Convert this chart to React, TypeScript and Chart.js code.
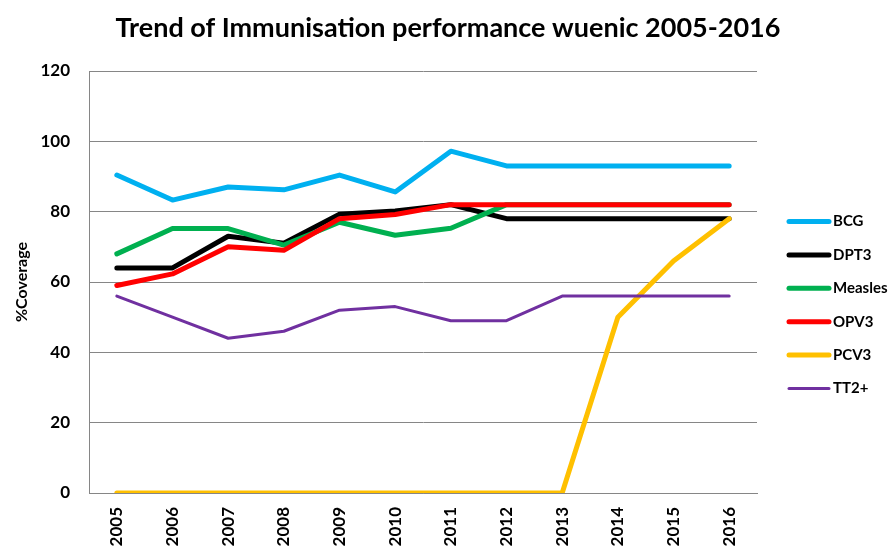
import React, { useEffect, useRef } from "react";
import { Chart, registerables } from "chart.js";

Chart.register(...registerables);

const years = ["2005", "2006", "2007", "2008", "2009", "2010", "2011", "2012", "2013", "2014", "2015", "2016"];
const bcg = [90.4, 83.3, 87, 86.2, 90.4, 85.6, 97.2, 93, 93, 93, 93, 93];
const dpt3 = [64, 64, 73, 71, 79.3, 80.2, 82, 78, 78, 78, 78, 78];
const measles = [68, 75.2, 75.2, 70.5, 77, 73.3, 75.3, 82, 82, 82, 82, 82];
const opv3 = [59, 62.3, 70, 69, 78, 79.2, 82, 82, 82, 82, 82, 82];
const pcv3 = [0, 0, 0, 0, 0, 0, 0, 0, 0, 50, 66, 78];
const tt2 = [56, 50, 44, 46, 52, 53, 49, 49, 56, 56, 56, 56];
const yTicks = [0, 20, 40, 60, 80, 100, 120];

const seriesNames = ["BCG", "DPT3", "Measles", "OPV3", "PCV3", "TT2+"];
const seriesData = [bcg, dpt3, measles, opv3, pcv3, tt2];
const seriesColors = ["#00B0F0", "#000000", "#00B050", "#FF0000", "#FFC000", "#7030A0"];
const seriesWidths = [5, 5, 5, 5, 5, 3];

const FONT = "Lato, 'Open Sans', sans-serif";

const titlePlugin = {
  id: "customTitle",
  afterDraw(chart: any) {
    const ctx = chart.ctx;
    ctx.save();
    ctx.fillStyle = "#000";
    ctx.font = `bold 27px ${FONT}`;
    ctx.textAlign = "center";
    ctx.textBaseline = "middle";
    ctx.fillText("Trend of Immunisation performance wuenic 2005-2016", 448, 28);
    ctx.restore();
  },
};

const legendPlugin = {
  id: "customLegend",
  afterDraw(chart: any) {
    const ctx = chart.ctx;
    ctx.save();
    const ds = chart.data.datasets;
    ds.forEach((d: any, i: number) => {
      const y = 221.5 + i * 33.4;
      ctx.strokeStyle = d.borderColor;
      ctx.lineWidth = d.borderWidth;
      ctx.lineCap = "round";
      ctx.beginPath();
      ctx.moveTo(789, y);
      ctx.lineTo(829, y);
      ctx.stroke();
      ctx.fillStyle = "#000";
      ctx.font = `bold 15px ${FONT}`;
      ctx.textAlign = "left";
      ctx.textBaseline = "middle";
      ctx.fillText(d.label, 833, y);
    });
    ctx.restore();
  },
};

export default function App() {
  const ref = useRef<HTMLCanvasElement | null>(null);
  useEffect(() => {
    document.body.style.margin = "0";
    if (!ref.current) return;
    const chart = new Chart(ref.current, {
      type: "line",
      data: {
        labels: years,
        datasets: seriesNames.map((name, i) => ({
          label: name,
          data: seriesData[i],
          borderColor: seriesColors[i],
          backgroundColor: seriesColors[i],
          borderWidth: seriesWidths[i],
          borderCapStyle: "round",
          borderJoinStyle: "round",
          pointRadius: 0,
          tension: 0,
          fill: false,
          order: seriesNames.length - i,
        })),
      },
      options: {
        responsive: false,
        animation: false,
        layout: { padding: { top: 71, right: 135, bottom: 0, left: 0 } },
        plugins: {
          legend: { display: false },
          title: { display: false },
          tooltip: { enabled: false },
        },
        scales: {
          x: {
            offset: true,
            grid: { display: false, drawTicks: false },
            border: { display: true, color: "#868686", width: 1 },
            ticks: {
              minRotation: 90,
              maxRotation: 90,
              padding: 14,
              color: "#000",
              font: { family: FONT, size: 17, weight: "bold" },
            },
            afterFit: (s: any) => {
              s.height = 55;
            },
          },
          y: {
            min: 0,
            max: 120,
            afterBuildTicks: (s: any) => {
              s.ticks = yTicks.map((v) => ({ value: v }));
            },
            grid: { color: "#868686", lineWidth: 1, drawTicks: false },
            border: { display: true, color: "#868686", width: 1 },
            ticks: {
              padding: 19,
              color: "#000",
              font: { family: FONT, size: 17, weight: "bold" },
            },
            title: {
              display: true,
              text: "%Coverage",
              color: "#000",
              font: { family: FONT, size: 16, weight: "bold" },
              padding: { top: 12, bottom: 0 },
            },
            afterFit: (s: any) => {
              s.width = 89;
            },
          },
        },
      },
      plugins: [titlePlugin, legendPlugin],
    } as any);
    return () => chart.destroy();
  }, []);
  return (
    <div style={{ width: 892, height: 548 }}>
      <canvas ref={ref} width={892} height={548} style={{ display: "block" }} />
    </div>
  );
}
